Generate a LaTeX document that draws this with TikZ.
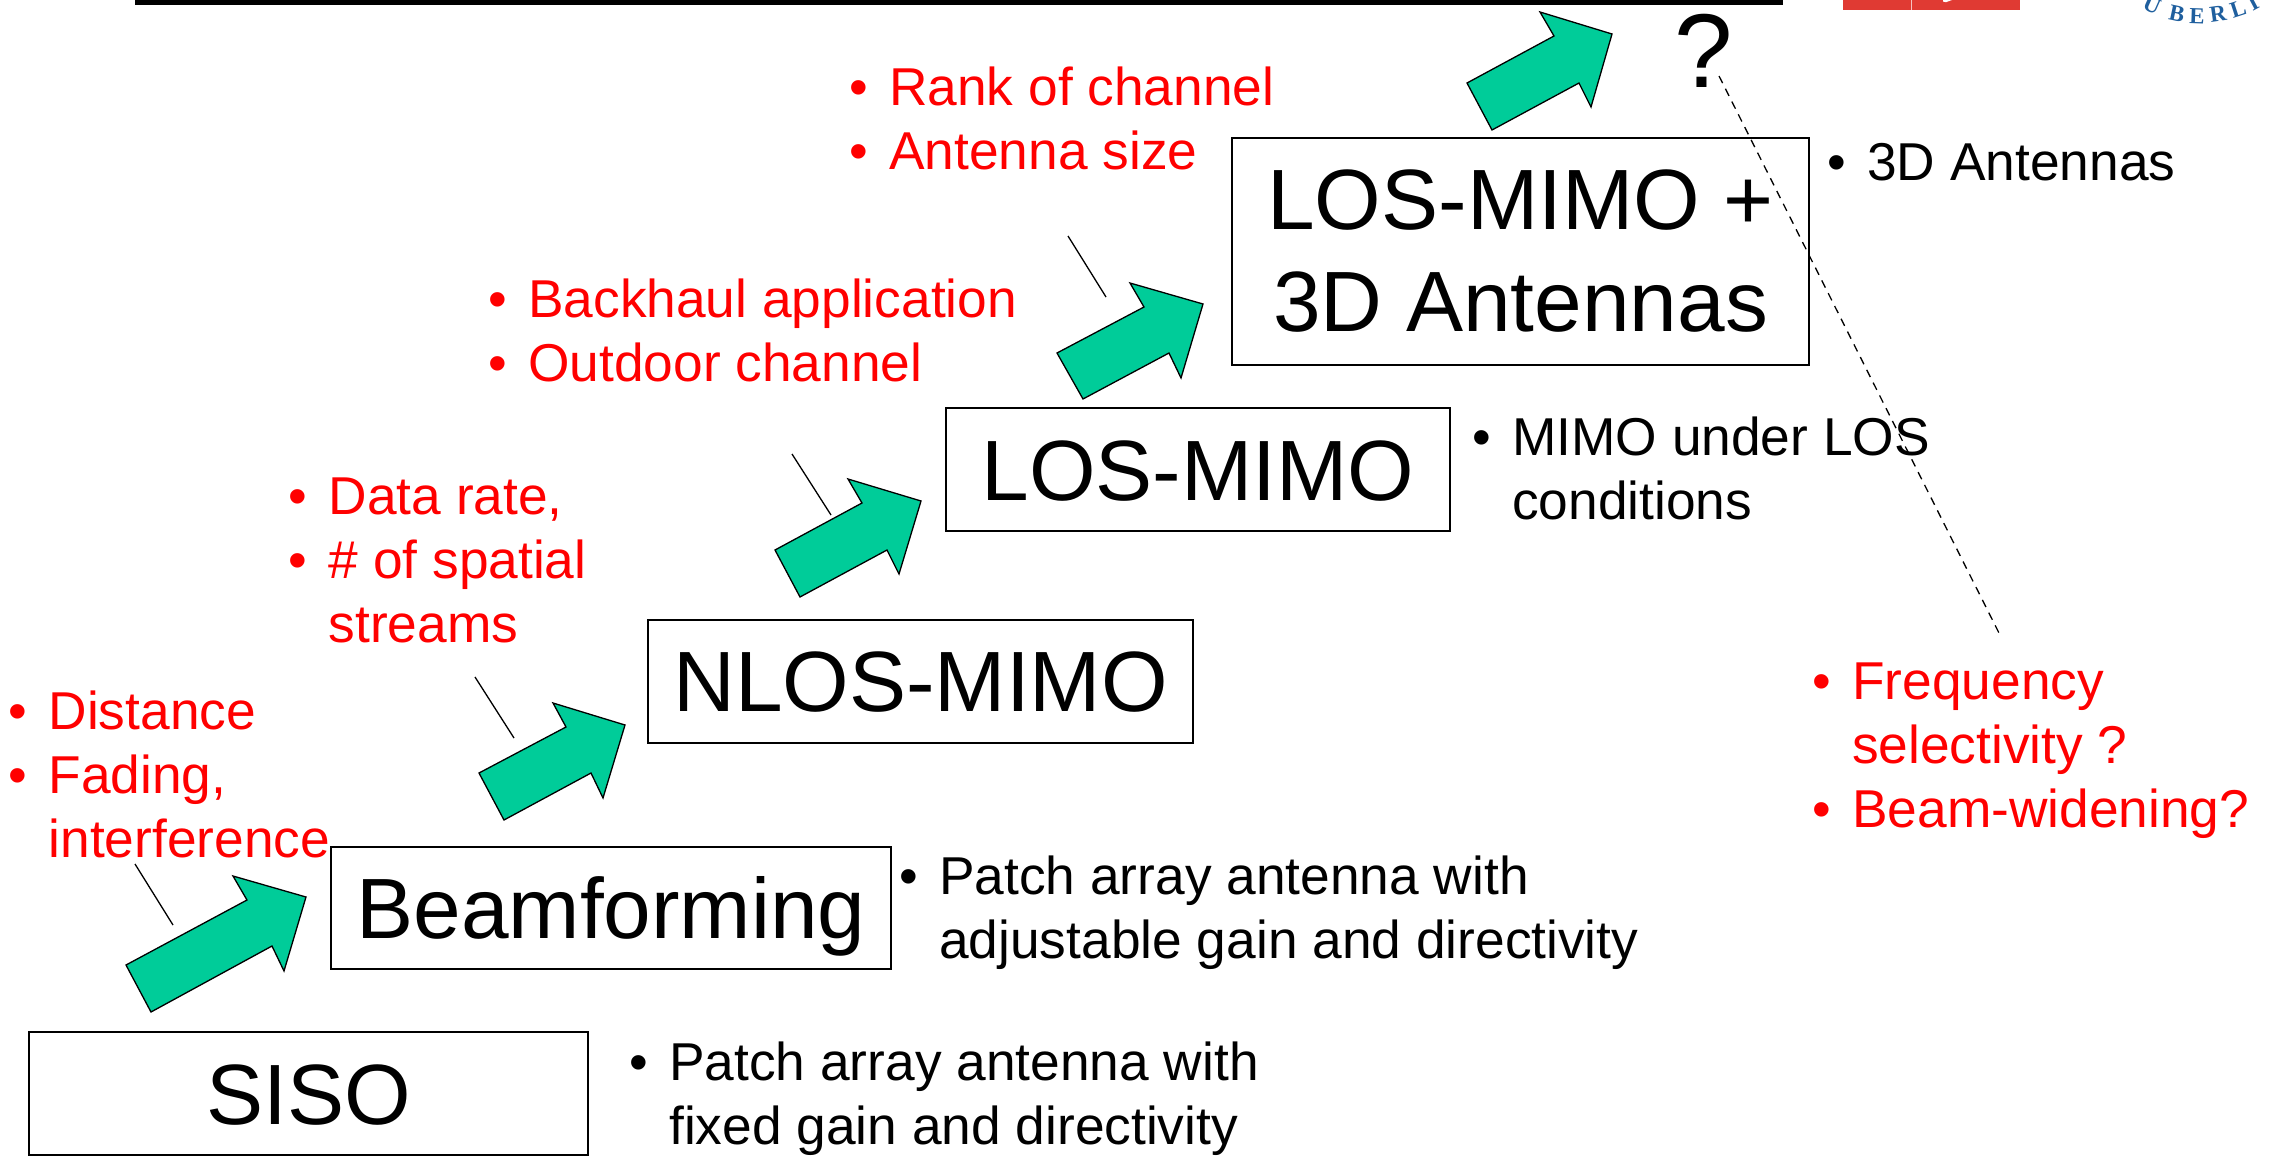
\documentclass[tikz,border=0pt]{standalone}
\usepackage{fontspec}
\setmainfont{Liberation Sans}
\newfontfamily\logofont{Liberation Serif}
\definecolor{arrowgreen}{HTML}{00CC99}
\definecolor{logoblue}{HTML}{1F5F9E}
\definecolor{logored}{HTML}{E03A33}
\newcommand{\bul}{\makebox[0pt][r]{\makebox[0pt][l]{•}\hskip 40pt}}
\tikzset{
  stagebox/.style={draw=black,line width=1.6pt,inner sep=0pt,outer sep=0pt,anchor=north west,
    font=\fontsize{85.6}{102}\selectfont,align=center},
  listtext/.style={inner sep=0pt,anchor=base west,align=left,
    font=\fontsize{53.3}{64}\selectfont},
  blacklist/.style={listtext,text=black},
  redlist/.style={listtext,text=red},
  fatarrow/.style={draw=black,fill=arrowgreen,line width=1.3pt,line join=miter},
  leader/.style={draw=black,line width=1.3pt},
  logoletter/.style={inner sep=0pt,text=logoblue,font=\logofont\bfseries\fontsize{23}{23}\selectfont}
}
\begin{document}
\begin{tikzpicture}[x=1pt,y=-1pt]
\useasboundingbox (0,0) rectangle (2271,1159);
% header fragments
\fill[black] (135,0) rectangle (1783,4.5);
\fill[logored] (1843,0) rectangle (2020,10);
\draw[white!70!logored,line width=.6pt] (1911,0) -- (1911,10);
\fill[white] (1943,0) -- (1952,0) -- (1946,2.2) -- (1943,1.6) -- cycle;
\node[logoletter,rotate=-24] (lu) at (2152,5) {U};
\node[logoletter,rotate=-12] (lb) at (2177,14) {B};
\node[logoletter,rotate=-2] (le) at (2197,16) {E};
\node[logoletter,rotate=8] (lr) at (2218,14) {R};
\node[logoletter,rotate=18] (ll) at (2238,9) {L};
\node[logoletter,rotate=28] (li) at (2253,3) {I};
% stage boxes
\node[stagebox,minimum width=559pt,text height=92pt,text depth=31pt] (siso) at (29,1032) {SISO};
\node[stagebox,minimum width=560pt,text height=91pt,text depth=31pt] (beam) at (331,847) {Beamforming};
\node[stagebox,minimum width=545pt,text height=91pt,text depth=32pt] (nlos) at (648,620) {NLOS-MIMO};
\node[stagebox,minimum width=504pt,text height=92pt,text depth=31pt] (los) at (946,408) {LOS-MIMO};
\node[stagebox,minimum width=577pt,minimum height=227pt] (los3d) at (1232,138) {LOS-MIMO +\\3D Antennas};
\node[inner sep=0pt,anchor=base,font=\fontsize{105}{105}\selectfont] (qm) at (1704,87) {?};
% block arrows
\filldraw[fatarrow] (126,965) -- (151,1012) -- (272,946) -- (284,971) -- (306,897) -- (233,876) -- (247,900) -- cycle;
\filldraw[fatarrow] (479,773) -- (504,820) -- (591,773) -- (603,798) -- (625,725) -- (553,703) -- (566,727) -- cycle;
\filldraw[fatarrow] (775,550) -- (800,597) -- (887,550) -- (899,574) -- (921,501) -- (848,479) -- (862,503) -- cycle;
\filldraw[fatarrow] (1057,353) -- (1083,399) -- (1169,353) -- (1181,378) -- (1203,304) -- (1130,283) -- (1144,307) -- cycle;
\filldraw[fatarrow] (1467,83) -- (1492,130) -- (1579,83) -- (1591,107) -- (1612,34) -- (1540,12) -- (1554,36) -- cycle;
% black lists
\node[blacklist] (t1) at (669,1144) {\bul Patch array antenna with\\fixed gain and directivity};
\node[blacklist] (t2) at (939,958) {\bul Patch array antenna with\\adjustable gain and directivity};
\node[blacklist] (t3) at (1512,519.5) {\bul MIMO under LOS\\conditions};
\node[blacklist] (t4) at (1867,180) {\bul 3D Antennas};
% red lists
\node[redlist] (r1) at (48.5,857) {\bul Distance\\\bul Fading,\\interference};
\node[redlist] (r2) at (328.5,642) {\bul Data rate,\\\bul \# of spatial\\streams};
\node[redlist] (r3) at (528,381) {\bul Backhaul application\\\bul Outdoor channel};
\node[redlist] (r4) at (889,169) {\bul Rank of channel\\\bul Antenna size};
\node[redlist] (r5) at (1852,827) {\bul Frequency\\selectivity ?\\\bul Beam-widening?};
% leaders
\coordinate (a1) at (135,864); \coordinate (b1) at (173,925);
\coordinate (a2) at (475,677); \coordinate (b2) at (514,738);
\coordinate (a3) at (792,454); \coordinate (b3) at (831,515);
\coordinate (a4) at (1068,236); \coordinate (b4) at (1106,297);
\draw[leader] (a1) -- (b1);
\draw[leader] (a2) -- (b2);
\draw[leader] (a3) -- (b3);
\draw[leader] (a4) -- (b4);
% dashed
\coordinate (d1) at (1719,76); \coordinate (d2) at (1999,633);
\draw[black,line width=1.3pt,dash pattern=on 8pt off 6.3pt] (d1) -- (d2);
\end{tikzpicture}
\end{document}
